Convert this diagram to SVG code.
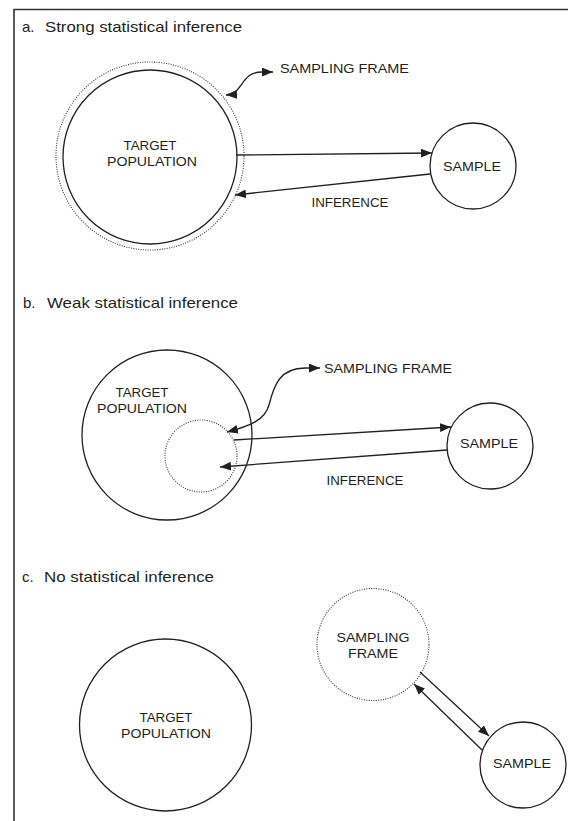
<svg xmlns="http://www.w3.org/2000/svg" width="568" height="821" viewBox="0 0 568 821">
<defs>
<style>
.bg{fill:#ffffff}
.frame{fill:none;stroke:#333;stroke-width:1.6}
.solid{fill:none;stroke:#231f20;stroke-width:1.3}
.dotted{fill:none;stroke:#333;stroke-width:1.1;stroke-dasharray:1 1.4}
.conn{fill:none;stroke:#231f20;stroke-width:1.3}
.title{font-family:"Liberation Sans",Arial,sans-serif;font-size:15px;fill:#231f20}
.lbl{font-family:"Liberation Sans",Arial,sans-serif;font-size:13.5px;fill:#231f20;text-anchor:middle}
.lbls{font-family:"Liberation Sans",Arial,sans-serif;font-size:13.5px;fill:#231f20}
</style>
<marker id="ah" viewBox="0 0 10 8" refX="10" refY="4" markerWidth="11" markerHeight="9" markerUnits="userSpaceOnUse" orient="auto-start-reverse">
<path d="M0,0 L10,4 L0,8 z" fill="#231f20"/>
</marker>
</defs>
<rect class="bg" x="0" y="0" width="568" height="821"/>
<path class="frame" d="M14,821 L14,9.5 L568,9.5"/>

<text class="title" x="22" y="32">a.</text>
<text class="title" x="45" y="32" textLength="197" lengthAdjust="spacingAndGlyphs">Strong statistical inference</text>
<text class="title" x="23" y="308">b.</text>
<text class="title" x="47" y="308" textLength="191" lengthAdjust="spacingAndGlyphs">Weak statistical inference</text>
<text class="title" x="22" y="582">c.</text>
<text class="title" x="44" y="582" textLength="170" lengthAdjust="spacingAndGlyphs">No statistical inference</text>

<g id="connectors">
<path class="conn" d="M226,95 C244,94 240,72 262,72 L273,72" marker-start="url(#ah)" marker-end="url(#ah)"/>
<line class="conn" x1="236" y1="155" x2="432" y2="153" marker-end="url(#ah)"/>
<line class="conn" x1="430" y1="174" x2="235" y2="195" marker-end="url(#ah)"/>

<path class="conn" d="M227,432 C250,426 265,420 269,405 C274,385 280,368 305,368 L320,368" marker-start="url(#ah)" marker-end="url(#ah)"/>
<line class="conn" x1="234" y1="440" x2="451" y2="427" marker-end="url(#ah)"/>
<line class="conn" x1="447" y1="450" x2="220" y2="467" marker-end="url(#ah)"/>

<line class="conn" x1="420" y1="672" x2="489" y2="736" marker-end="url(#ah)"/>
<line class="conn" x1="482" y1="750" x2="414" y2="684" marker-end="url(#ah)"/>
</g>

<g id="a-sampling-frame">
<circle class="dotted" cx="150" cy="156" r="94"/>
<text class="lbls" x="280" y="73" textLength="129" lengthAdjust="spacingAndGlyphs">SAMPLING FRAME</text>
</g>
<g id="a-target-population">
<circle class="solid" cx="150" cy="157" r="87"/>
<text class="lbl" x="150" y="150" textLength="53" lengthAdjust="spacingAndGlyphs">TARGET</text>
<text class="lbl" x="152" y="166" textLength="90" lengthAdjust="spacingAndGlyphs">POPULATION</text>
</g>
<g id="a-sample">
<circle class="solid" cx="473" cy="166" r="43"/>
<text class="lbl" x="472" y="171" textLength="58" lengthAdjust="spacingAndGlyphs">SAMPLE</text>
</g>
<g id="a-inference">
<text class="lbl" x="350" y="207" textLength="77" lengthAdjust="spacingAndGlyphs">INFERENCE</text>
</g>

<g id="b-target-population">
<circle class="solid" cx="167" cy="435" r="85"/>
<text class="lbl" x="142" y="397" textLength="53" lengthAdjust="spacingAndGlyphs">TARGET</text>
<text class="lbl" x="142" y="413" textLength="90" lengthAdjust="spacingAndGlyphs">POPULATION</text>
</g>
<g id="b-sampling-frame">
<circle class="dotted" cx="201" cy="456" r="36"/>
<text class="lbls" x="324" y="373" textLength="128" lengthAdjust="spacingAndGlyphs">SAMPLING FRAME</text>
</g>
<g id="b-sample">
<circle class="solid" cx="490" cy="446" r="43"/>
<text class="lbl" x="489" y="448" textLength="58" lengthAdjust="spacingAndGlyphs">SAMPLE</text>
</g>
<g id="b-inference">
<text class="lbl" x="365" y="485" textLength="77" lengthAdjust="spacingAndGlyphs">INFERENCE</text>
</g>

<g id="c-target-population">
<circle class="solid" cx="165.5" cy="725" r="86"/>
<text class="lbl" x="166" y="722" textLength="53" lengthAdjust="spacingAndGlyphs">TARGET</text>
<text class="lbl" x="166" y="738" textLength="90" lengthAdjust="spacingAndGlyphs">POPULATION</text>
</g>
<g id="c-sampling-frame">
<circle class="dotted" cx="373" cy="644.5" r="56"/>
<text class="lbl" x="373" y="642" textLength="73" lengthAdjust="spacingAndGlyphs">SAMPLING</text>
<text class="lbl" x="373" y="658" textLength="50" lengthAdjust="spacingAndGlyphs">FRAME</text>
</g>
<g id="c-sample">
<circle class="solid" cx="523" cy="765" r="43"/>
<text class="lbl" x="522" y="768" textLength="58" lengthAdjust="spacingAndGlyphs">SAMPLE</text>
</g>
</svg>
